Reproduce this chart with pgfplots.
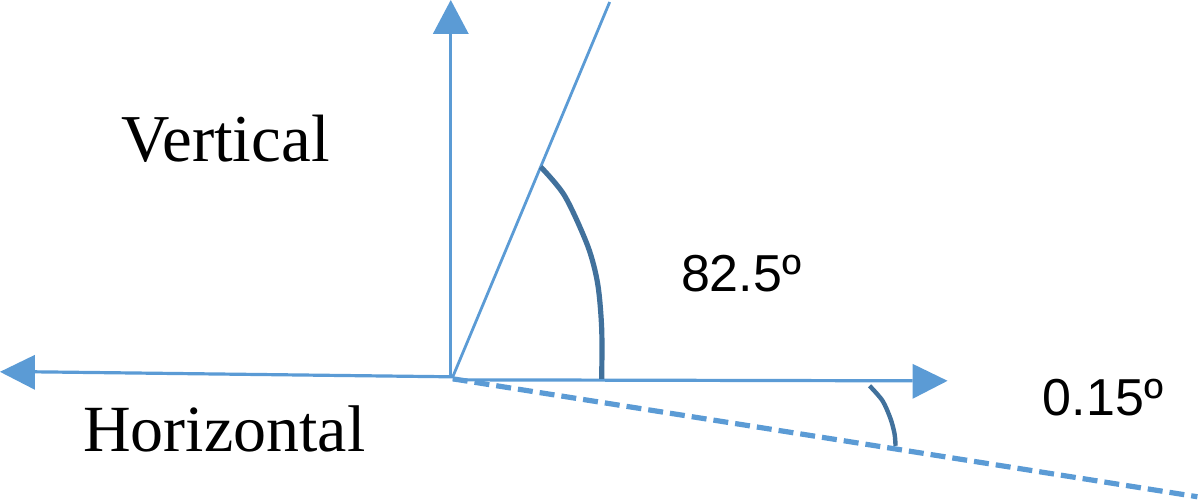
\documentclass[border=0pt]{standalone}
\usepackage{pgfplots}
\pgfplotsset{compat=1.18}
\usepackage{fontspec}
\setmainfont{Liberation Serif}
\newfontfamily\arial{Liberation Sans}

\definecolor{lineblue}{RGB}{91,155,213}
\definecolor{arcblue}{RGB}{65,113,156}

\begin{document}
\begin{tikzpicture}
\begin{axis}[
    width=600pt, height=251pt, scale only axis,
    xmin=0, xmax=1200, ymin=0, ymax=502,
    y dir=reverse,
    hide axis, clip=false,
]
% axes of the sketch (pixel coordinates)
\addplot[lineblue, line width=1.6pt] coordinates {(37,373) (455,378)};
\addplot[lineblue, line width=1.6pt] coordinates {(453,378) (453,35)};
\addplot[lineblue, line width=1.4pt] coordinates {(455,378) (612,3)};
\addplot[lineblue, line width=1.6pt] coordinates {(455,381) (915,382)};
\addplot[lineblue, line width=2.6pt, dash pattern=on 7.5pt off 3.5pt] coordinates {(455,380) (1200,498)};

% arrow heads
\addplot[draw=none, fill=lineblue] coordinates {(2,373) (37,356) (37,391) (2,373)};
\addplot[draw=none, fill=lineblue] coordinates {(453,1) (435,35) (471,35) (453,1)};
\addplot[draw=none, fill=lineblue] coordinates {(950,382) (915,365) (915,400) (950,382)};

% angle arcs
\addplot[arcblue, line width=2.6pt, smooth] coordinates {(543,168) (567,197) (590,247) (600,285) (604,330) (604,380)};
\addplot[arcblue, line width=2.2pt, smooth] coordinates {(872,387) (885,402) (893,420) (897,435) (898,447)};

\node[anchor=base west, inner sep=0pt, font=\fontsize{33.5}{38}\selectfont] at (axis cs:123,163) {Vertical};
\node[anchor=base west, inner sep=0pt, font=\fontsize{33}{38}\selectfont] at (axis cs:85,453) {Horizontal};
\node[anchor=base west, inner sep=0pt, font=\arial\fontsize{26}{30}\selectfont] at (axis cs:683,293) {82.5º};
\node[anchor=base west, inner sep=0pt, font=\arial\fontsize{26}{30}\selectfont] at (axis cs:1045,417) {0.15º};
\end{axis}
\end{tikzpicture}
\end{document}
